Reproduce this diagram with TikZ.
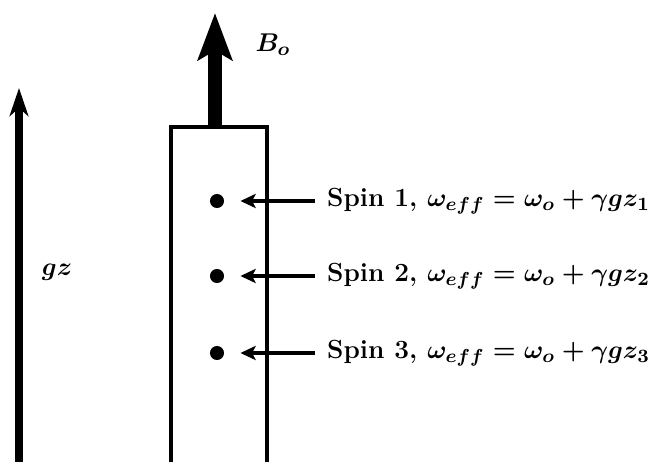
\documentclass[tikz,border=0pt]{standalone}
\usepackage{amsmath,amssymb,bm}
\usetikzlibrary{arrows.meta}

\begin{document}
\begin{tikzpicture}[x=0.015cm,y=-0.015cm,font=\fontsize{11.2}{13.5}\selectfont]
\useasboundingbox (0,0) rectangle (658,462);
\tikzset{spin/.style={circle,fill,inner sep=0,minimum size=6pt}, lbl/.style={right,inner sep=5pt,font=\fontsize{11.2}{13.5}\selectfont\bfseries\boldmath}}
% field gradient
\coordinate (gzfoot) at (19,470); \coordinate (gztip) at (19,88);
\draw[line width=3pt,-{Stealth[length=12pt,width=8pt,inset=3.5pt]}] (gzfoot)--(gztip);
\node (gz) at (57,272) {$\boldsymbol{gz}$};
% sample tube and main field
\draw[line width=1.7pt] (171,470) rectangle (267,127);
\coordinate (tubetop) at (215,127); \coordinate (botip) at (215,13);
\draw[line width=6.4pt,-{Stealth[length=20pt,width=14.5pt,inset=4pt]}] (tubetop)--(botip);
\node (bo) at (273,45) {$\boldsymbol{B_o}$};
% spins
\foreach \i/\y in {1/201,2/276,3/353} {
  \node[spin] (d\i) at (217,\y) {};
  \node[lbl] (s\i) at (315,\y) {Spin \i, $\omega_{eff}=\omega_o+\gamma g z_\i$};
  \draw[line width=1.7pt,-{Stealth[length=6.5pt,width=6pt,inset=1.5pt]},shorten >=6.8pt] (s\i.west)--(d\i);
}
\end{tikzpicture}
\end{document}
